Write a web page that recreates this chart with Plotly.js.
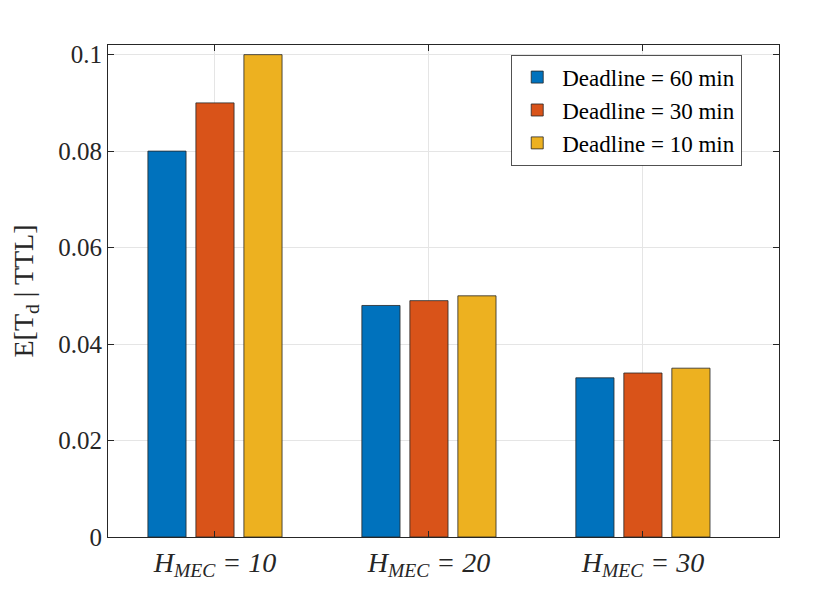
<!DOCTYPE html>
<html>
<head>
<meta charset="utf-8">
<script src="https://cdn.plot.ly/plotly-3.0.1.min.js"></script>
<style>
  body { margin: 0; background: #fff; }
  #plot { width: 830px; height: 604px; }
</style>
</head>
<body>
<div id="plot"></div>
<script>
var groups = [1, 2, 3];
var groupLabels = ['<i>H<sub>MEC</sub> = 10</i>', '<i>H<sub>MEC</sub> = 20</i>', '<i>H<sub>MEC</sub> = 30</i>'];

var seriesNames = ['Deadline = 60 min', 'Deadline = 30 min', 'Deadline = 10 min'];
var deadline60 = [0.080, 0.048, 0.033];
var deadline30 = [0.090, 0.049, 0.034];
var deadline10 = [0.100, 0.050, 0.035];
var colors = ['#0072BD', '#D95319', '#EDB120'];

var yTicks = [0, 0.02, 0.04, 0.06, 0.08, 0.1];
var yTickText = ['0', '0.02', '0.04', '0.06', '0.08', '0.1'];

var allSeries = [deadline60, deadline30, deadline10];
var data = [];
for (var i = 0; i < allSeries.length; i++) {
  data.push({
    type: 'bar',
    x: groups,
    y: allSeries[i],
    name: seriesNames[i],
    marker: {
      color: colors[i],
      line: { color: '#262626', width: 0.8 }
    },
    hoverinfo: 'skip'
  });
}

var font = 'Liberation Serif';

var layout = {
  width: 830,
  height: 604,
  paper_bgcolor: '#fff',
  plot_bgcolor: '#fff',
  margin: { l: 108, r: 51, t: 45, b: 67 },
  barmode: 'group',
  bargap: 0.327,
  bargroupgap: 0.205,
  font: { family: font, size: 25, color: '#262626' },
  showlegend: true,
  legend: {
    x: 0.944, y: 0.98,
    xanchor: 'right', yanchor: 'top',
    bgcolor: '#fff',
    bordercolor: '#262626',
    borderwidth: 0.8,
    font: { family: font, size: 23, color: '#000' },
    tracegroupgap: 0,
    itemwidth: 40
  },
  xaxis: {
    range: [0.5, 3.636],
    tickvals: groups,
    ticktext: groupLabels,
    tickfont: { family: font, size: 28, color: '#262626' },
    ticks: 'inside',
    ticklen: 6,
    tickcolor: '#262626',
    showgrid: true,
    gridcolor: '#e5e5e5',
    gridwidth: 1,
    showline: true,
    linecolor: '#262626',
    linewidth: 1,
    mirror: 'allticks',
    zeroline: false,
    fixedrange: true
  },
  yaxis: {
    range: [0, 0.102],
    tickvals: yTicks,
    ticktext: yTickText,
    tickfont: { family: font, size: 25, color: '#262626' },
    ticks: 'inside',
    ticklen: 6,
    tickcolor: '#262626',
    showgrid: true,
    gridcolor: '#e5e5e5',
    gridwidth: 1,
    showline: true,
    linecolor: '#262626',
    linewidth: 1,
    mirror: 'allticks',
    zeroline: false,
    title: {
      text: 'E[T<sub>d</sub> | TTL]',
      font: { family: font, size: 28, color: '#262626' },
      standoff: 16
    },
    fixedrange: true
  }
};

Plotly.newPlot('plot', data, layout, { displayModeBar: false, staticPlot: true });
</script>
</body>
</html>
